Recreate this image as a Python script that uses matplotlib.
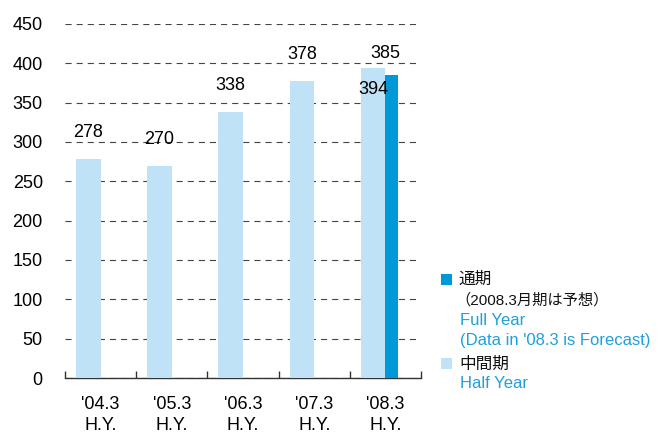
import matplotlib
matplotlib.use("Agg")
import matplotlib.pyplot as plt
from matplotlib.patches import Rectangle
import numpy as np

plt.rcParams['font.family'] = ['Liberation Sans', 'Noto Sans CJK JP', 'DejaVu Sans']

categories = ["'04.3\nH.Y.", "'05.3\nH.Y.", "'06.3\nH.Y.", "'07.3\nH.Y.", "'08.3\nH.Y."]
half_year = [278, 270, 338, 378, 394]
full_year = [None, None, None, None, 385]
yticks = [0, 50, 100, 150, 200, 250, 300, 350, 400, 450]

light = '#bfe2f6'
dark = '#0099d8'
legend_blue = '#1fa0dc'

W, H = 666, 436
fig = plt.figure(figsize=(W / 100, H / 100), dpi=100)
ax = fig.add_axes([65 / W, 1 - 378 / H, (421 - 65) / W, (378 - 24) / H])

x = np.arange(len(categories))
ax.bar(x - 0.345, half_year, width=0.345, align='edge', color=light, zorder=3)
fx = [i for i, v in enumerate(full_year) if v is not None]
fv = [v for v in full_year if v is not None]
ax.bar(np.array(fx), fv, width=0.17, align='edge', color=dark, zorder=3)

ax.set_xlim(-0.5, 4.5)
ax.set_ylim(0, 450)
ax.set_yticks(yticks)
ax.set_yticklabels([str(v) for v in yticks], fontsize=13)
ax.yaxis.grid(True, linestyle=(0, (5.5, 4.5)), color='#444444', linewidth=0.8, zorder=1)
ax.tick_params(axis='y', length=0, pad=16)

ax.set_xticks(x)
ax.set_xticklabels(categories, fontsize=13, linespacing=1.3)
ax.tick_params(axis='x', which='major', length=0, pad=13)
ax.set_xticks(np.arange(-0.5, 5.0, 1.0), minor=True)
ax.tick_params(axis='x', which='minor', direction='in', length=5, width=1, color='#333333')

for s in ['left', 'right', 'top']:
    ax.spines[s].set_visible(False)
ax.spines['bottom'].set_color('#333333')
ax.spines['bottom'].set_linewidth(1)

for i, v in enumerate(half_year):
    cx = i - 0.345 / 2
    if i < len(half_year) - 1:
        ax.annotate(str(v), (cx, v), xytext=(0, 18), textcoords='offset pixels',
                    ha='center', va='bottom', fontsize=13, zorder=5)
    else:
        ax.annotate(str(v), (cx, v), xytext=(0, -13), textcoords='offset pixels',
                    ha='center', va='top', fontsize=13, zorder=5)
for i, v in zip(fx, fv):
    ax.annotate(str(v), (i, v), xytext=(0, 13), textcoords='offset pixels',
                ha='center', va='bottom', fontsize=13, zorder=5)

# legend
def fy(py):
    return 1 - py / H

fig.add_artist(Rectangle((441 / W, fy(285)), 11 / W, 11 / H, transform=fig.transFigure,
                         color=dark, lw=0))
fig.add_artist(Rectangle((441 / W, fy(369)), 11 / W, 11 / H, transform=fig.transFigure,
                         color=light, lw=0))
fig.text(459 / W, fy(279), '通期', fontsize=12, va='center', ha='left', color='#111111')
fig.text(455 / W, fy(300), '（2008.3月期は予想）', fontsize=11, va='center', ha='left', color='#111111')
fig.text(460 / W, fy(320), 'Full Year', fontsize=12, va='center', ha='left', color=legend_blue)
fig.text(460 / W, fy(340), "(Data in '08.3 is Forecast)", fontsize=12, va='center', ha='left', color=legend_blue)
fig.text(459 / W, fy(364), '中間期', fontsize=12, va='center', ha='left', color='#111111')
fig.text(460 / W, fy(383), 'Half Year', fontsize=12, va='center', ha='left', color=legend_blue)

fig.savefig('out.png', dpi=100)
